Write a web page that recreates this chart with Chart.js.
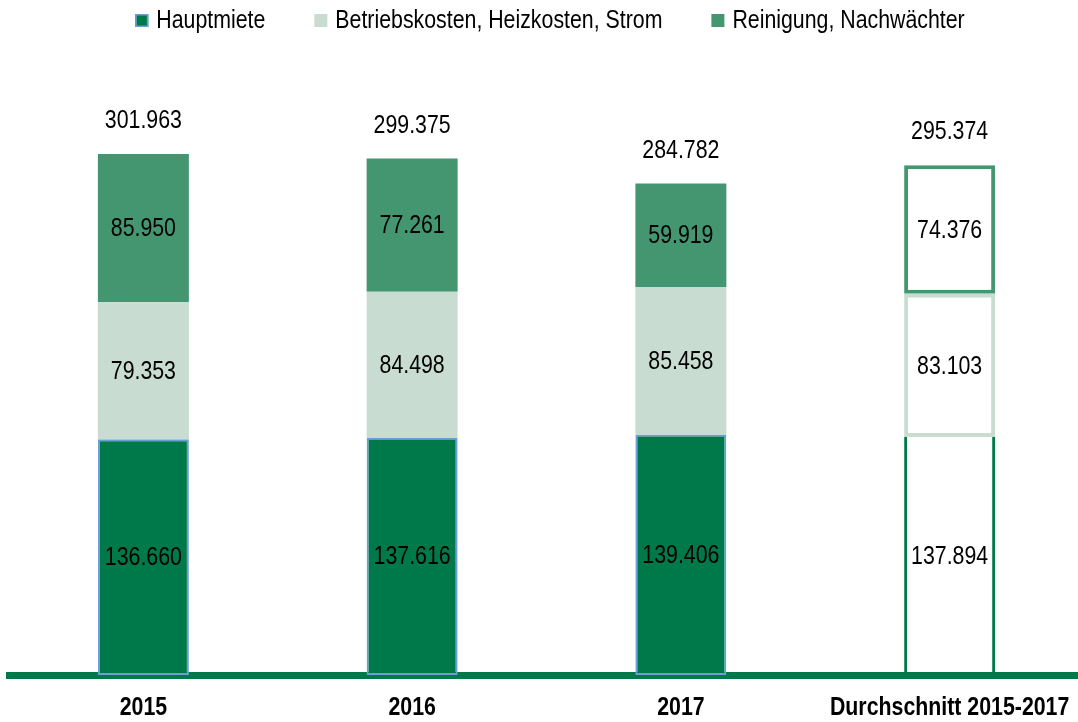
<!DOCTYPE html>
<html>
<head>
<meta charset="utf-8">
<script src="https://cdn.jsdelivr.net/npm/chart.js@4.4.1/dist/chart.umd.min.js"></script>
<style>
  html, body { margin: 0; padding: 0; background: #ffffff; overflow: hidden; }
  #wrap { width: 1078px; height: 722px; position: relative; overflow: hidden; }
  #c { position: absolute; left: 0; top: 0; }
</style>
</head>
<body>
<div id="wrap"><canvas id="c" width="1084" height="722"></canvas></div>
<script>
const categories = ['2015', '2016', '2017', 'Durchschnitt 2015-2017'];
const seriesNames = ['Hauptmiete', 'Betriebskosten, Heizkosten, Strom', 'Reinigung, Nachwächter'];
const hauptmiete = [136660, 137616, 139406, 137894];
const betriebskosten = [79353, 84498, 85458, 83103];
const reinigung = [85950, 77261, 59919, 74376];
const totals = [301963, 299375, 284782, 295374];

const FONT = "'Liberation Sans', Arial, sans-serif";
const NARROW_SCALE = 0.82; // emulate Arial Narrow
const DARK = '#00794a';
const LIGHT = '#c9dcd1';
const MID = '#449670';
const BLUE = '#6a9fd8';

function fmt(v) {
  const s = Math.round(v).toString();
  return s.replace(/\B(?=(\d{3})+(?!\d))/g, '.');
}

function narrowFont(ctx, size, bold) {
  ctx.font = (bold ? 'bold ' : '') + size + 'px ' + FONT;
}
function narrowWidth(ctx, text) {
  return ctx.measureText(text).width * NARROW_SCALE;
}
function narrowText(ctx, text, x, y, align) {
  ctx.save();
  ctx.textAlign = align || 'center';
  ctx.textBaseline = 'middle';
  ctx.translate(x, y);
  ctx.scale(NARROW_SCALE, 1);
  ctx.fillText(text, 0, 0);
  ctx.restore();
}

const valueLabels = {
  id: 'valueLabels',
  afterDatasetsDraw(chart) {
    const ctx = chart.ctx;
    ctx.save();
    ctx.fillStyle = '#000000';
    narrowFont(ctx, 26, false);
    chart.data.datasets.forEach((ds, di) => {
      const meta = chart.getDatasetMeta(di);
      meta.data.forEach((el, i) => {
        narrowText(ctx, fmt(ds.data[i]), el.x, (el.y + el.base) / 2 + 1);
      });
    });
    const topMeta = chart.getDatasetMeta(chart.data.datasets.length - 1);
    topMeta.data.forEach((el, i) => {
      narrowText(ctx, fmt(totals[i]), el.x, el.y - 33);
    });
    ctx.restore();
  },
  afterDraw(chart) {
    const ctx = chart.ctx;
    const xs = chart.scales.x;
    ctx.save();
    ctx.fillStyle = '#000000';
    // category labels, bold narrow
    narrowFont(ctx, 26, true);
    xs.getTicks().forEach((t, i) => {
      narrowText(ctx, chart.data.labels[i], xs.getPixelForTick(i), chart.chartArea.bottom + 33);
    });
    // legend
    narrowFont(ctx, 26, false);
    const box = 13, textGap = 8, itemGap = 49;
    const fills = [DARK, LIGHT, MID];
    const strokes = [BLUE, null, null];
    const widths = seriesNames.map(n => narrowWidth(ctx, n));
    const total = widths.reduce((a, w) => a + box + textGap + w, 0) + itemGap * (seriesNames.length - 1);
    let x = 550 - total / 2;
    const cy = 20.5;
    seriesNames.forEach((name, i) => {
      ctx.fillStyle = fills[i];
      ctx.fillRect(x, cy - box / 2, box, box);
      if (strokes[i]) {
        ctx.strokeStyle = strokes[i];
        ctx.lineWidth = 1.5;
        ctx.strokeRect(x + 0.75, cy - box / 2 + 0.75, box - 1.5, box - 1.5);
      }
      ctx.fillStyle = '#000000';
      narrowText(ctx, name, x + box + textGap, cy, 'left');
      x += box + textGap + widths[i] + itemGap;
    });
    ctx.restore();
  }
};

const last = categories.length - 1;
function perBar(normal, special) {
  return categories.map((_, i) => (i === last ? special : normal));
}

new Chart(document.getElementById('c'), {
  type: 'bar',
  data: {
    labels: categories,
    datasets: [
      {
        label: seriesNames[0],
        data: hauptmiete,
        backgroundColor: perBar(DARK, '#ffffff'),
        borderColor: perBar(BLUE, DARK),
        borderWidth: perBar(2, 3),
        borderSkipped: perBar(false, 'top')
      },
      {
        label: seriesNames[1],
        data: betriebskosten,
        backgroundColor: perBar(LIGHT, '#ffffff'),
        borderColor: perBar(LIGHT, LIGHT),
        borderWidth: perBar(0, 4),
        borderSkipped: false
      },
      {
        label: seriesNames[2],
        data: reinigung,
        backgroundColor: perBar(MID, '#ffffff'),
        borderColor: perBar(MID, MID),
        borderWidth: perBar(0, 4),
        borderSkipped: false
      }
    ]
  },
  options: {
    responsive: false,
    animation: false,
    devicePixelRatio: 1,
    layout: { padding: { left: 9, right: 0, top: 85, bottom: 47 } },
    datasets: { bar: { categoryPercentage: 1, barPercentage: 0.3386 } },
    plugins: {
      tooltip: { enabled: false },
      legend: { display: false }
    },
    scales: {
      x: {
        stacked: true,
        z: 1,
        grid: { display: false, drawTicks: false },
        border: { display: true, color: DARK, width: 7 },
        ticks: { display: false }
      },
      y: {
        stacked: true,
        display: false,
        min: 0,
        max: 341900
      }
    }
  },
  plugins: [valueLabels]
});
</script>
</body>
</html>
